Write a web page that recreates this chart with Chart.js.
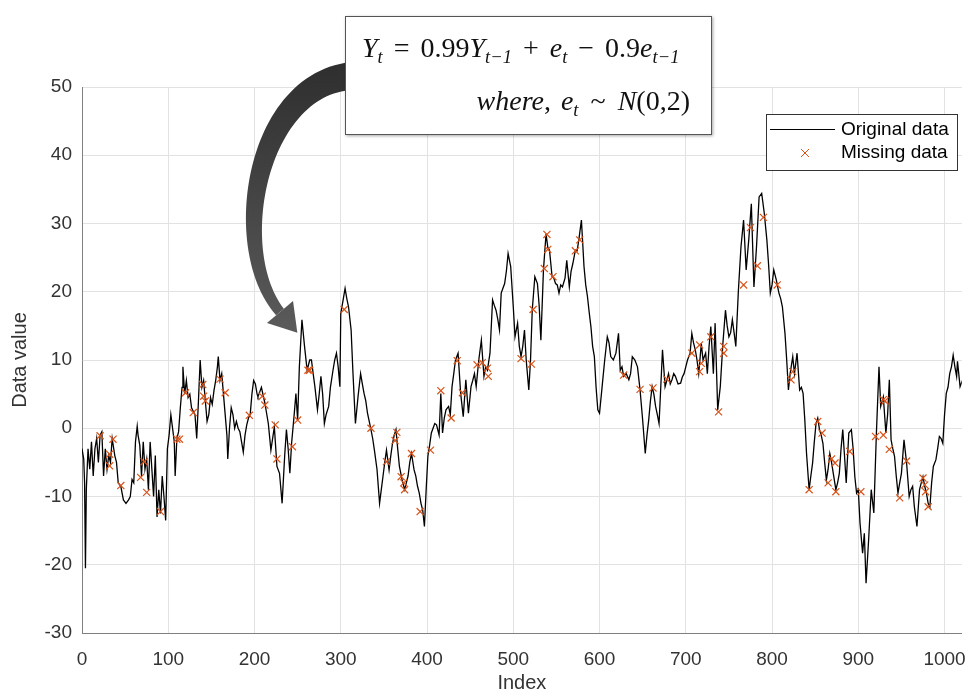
<!DOCTYPE html>
<html>
<head>
<meta charset="utf-8">
<script src="https://cdn.jsdelivr.net/npm/chart.js@4.4.1/dist/chart.umd.min.js"></script>
<style>
  body { margin: 0; background: #fff; }
  #wrap { position: relative; width: 968px; height: 699px; overflow: hidden; }
  #formula {
    position: absolute; left: 345px; top: 16px; width: 367px; height: 119px;
    box-sizing: border-box; border: 1px solid #555; background: #fff;
    box-shadow: 1px 1px 3px rgba(0,0,0,0.35);
    font-family: "Liberation Serif", "DejaVu Serif", serif; font-size: 28px; color: #111;
  }
  #formula .l1 { position: absolute; left: 16px; top: 15px; white-space: nowrap; line-height: 32px; }
  #formula .l2 { position: absolute; right: 21px; top: 68px; white-space: nowrap; line-height: 32px; }
  #formula sub { font-size: 0.66em; vertical-align: -0.35em; line-height: 0; }
  #formula .op { margin: 0 11px; }
  #formula .l2 .op { margin: 0 12px; }
  #formula .cm { margin-right: 10px; }
</style>
</head>
<body>
<div id="wrap">
  <canvas id="chart" width="968" height="699"></canvas>
  <div id="formula">
    <div class="l1"><i>Y<sub>t</sub></i><span class="op">=</span>0.99<i>Y<sub>t−1</sub></i><span class="op">+</span><i>e<sub>t</sub></i><span class="op">−</span>0.9<i>e<sub>t−1</sub></i></div>
    <div class="l2"><i>where</i><span class="cm">,</span><i>e<sub>t</sub></i><span class="op">~</span><i>N</i>(0,2)</div>
  </div>
</div>
<script>
// series (index, value)
const lineIndex = [
  0,2,3,4,5,7,9,11,13,15,17,19,21,23,25,27,29,31,33,35,38,40,42,45,48,51,54,56,58,60,
  62,64,65,67,69,71,73,75,77,79,81,83,85,87,89,91,93,95,97,99,101,103,105,107,108,110,112,114,116,117,
  119,121,123,125,127,129,131,133,135,137,139,141,143,145,147,149,151,153,155,157,158,160,162,164,166,168,169,171,173,175,
  177,179,181,183,185,187,189,191,193,195,197,199,201,203,
  204,208,212,216,219,223,226,229,232,235,237,239,241,243,246,248,250,252,255,258,261,264,266,268,270,273,275,277,279,281,
  283,286,288,291,293,295,297,299,300,303,305,307,309,312,314,317,320,323,325,327,329,331,333,335,337,339,342,345,347,349,
  351,353,356,358,360,362,364,366,368,371,374,376,378,380,382,385,387,389,391,393,395,397,399,401,403,405,407,409,
  411,414,416,418,420,422,425,427,429,431,433,436,439,442,445,448,451,453,455,457,460,463,466,468,470,473,476,478,480,482,
  484,486,488,490,492,494,497,500,502,505,507,509,511,513,515,518,520,522,525,528,530,532,535,538,540,542,545,547,549,551,
  553,555,557,560,562,565,567,569,572,574,576,579,582,584,586,588,590,592,594,596,598,600,603,606,609,611,613,616,
  619,622,624,626,628,631,634,636,638,641,644,647,650,653,655,657,659,661,663,665,667,669,671,673,676,678,680,682,684,686,
  688,691,694,696,698,700,702,705,707,709,711,713,715,718,720,723,725,727,729,732,734,737,740,743,746,748,750,752,754,756,
  758,761,764,767,770,773,776,779,782,785,788,791,794,796,798,800,802,805,808,810,812,815,817,819,821,
  824,826,829,832,834,836,838,840,843,845,847,849,851,853,855,857,859,861,863,865,867,869,871,874,876,878,880,882,884,886,
  889,892,894,896,898,900,902,905,907,909,912,915,918,921,924,926,929,932,934,936,938,940,942,944,946,948,950,953,956,959,
  961,963,965,968,971,973,975,977,979,981,983,985,987,990,992,994,996,998,1000,1002,1004,1006,1008,1010,1012,1014,1015,1018,1021,1024
];
const lineValue = [
  -3,-4.5,-8,-20.5,-9,-3,-6,-2,-7,-3,-1.5,-5,-1,-0.5,-7,-3,-6,-4,-5,-1.5,-4,-5,-8,-8.5,-10.5,-11,-10.5,-10,-7.5,-8,
  -2,0.3,-1,-2.5,-7,-2,-6,-4.5,-9,-2,-6,-10,-4,-13,-9,-12.5,-7,-10,-13.5,-3,-1,2,0,-2,-7,-1.5,-0.5,3,6,9,
  5,7,4.5,5,3,2.5,2,-1.5,4,10,6,7,4,1,2,4.5,3.5,5.5,7,9,10.5,7,8,5,2,-1,-4.5,0,3,2,
  0,1,0,-0.5,-2,-3.5,-1,0.5,1.5,2,5,7,6.5,5,
  4.6,6,3.7,0.7,-3.2,0.2,-5.6,-6.6,-11,-4,-0.2,-3,-6.6,-2.2,2,5.1,1.2,9,15.9,12,8.5,10,10,8,6.1,2.7,5,7.6,5,0.7,
  2,3.2,6,8.5,10,11,9,6.1,16.8,19,20.5,19,17.8,14.4,8.5,0.7,4.6,8,6.5,5.1,4,2.2,1,-0.2,-1.5,-3.2,-6,-11,-9,-7,
  -5,-3.2,-6.1,-4,-2.2,-1,-0.2,-3,-5.6,-7.5,-9,-8,-7,-5,-3.7,-6.1,-7,-8.5,-9.5,-11,-12,-14.4,-9,-4.1,-2.5,-0.7,0,0.7,
  0.5,-1,5.1,-0.7,1.5,2.7,3.2,2,6.1,8,10,11,5.1,1.7,7.1,2.2,6.1,7,8,6.1,10,12.9,7.6,9,8.5,11,18.8,18,17.3,16,
  14.4,19.8,20.5,21.2,23,25.6,23.7,17.8,13.4,15.4,12,10.5,12,14.4,10,5.6,10,17.3,22.2,21.2,18,12.9,23.2,28.5,26.5,26.1,22.2,22,21.2,21,
  19.8,21,20.7,22,24.6,20.7,23,24.1,26.1,26,27.6,30.5,23.7,21,19.3,17,14.9,12,10.5,6,2.7,2.2,6.1,10,13.4,12.5,10.5,10,
  11,13.9,8.5,9,7.6,8,7.1,8,10.5,10,9,5.6,1.2,-3.7,-1,1.2,4,6.1,5,3.2,2,0.7,6,11.5,6.1,7,8,6.5,7.1,8,
  7.6,6.5,6.6,7.5,8,9,10,11,13.9,12.5,11.5,10,8,12.4,10,11,8,12,14.9,8,15.4,2.7,6.1,12.4,17.3,15,13.4,14,15.9,14,
  12,20.2,26.6,30.5,23.2,27.6,32.9,20.7,26.6,33.9,34.4,31.5,27.6,24,19.8,21,23.2,21.7,19.8,19,17.8,13.9,10,5.6,8,
  10.5,8,11,5.6,6,5.1,1.2,-3.7,-9,-7,-5.1,-2,0.7,1.5,-0.2,-1,-2.2,-5,-7.6,-6,-3.7,-5,-6.6,-9,-8,-6.6,-3,-0.2,-4,-8,
  -0.7,-0.2,-3,-7.1,-9.5,-9,-13.9,-18.3,-15.4,-22.7,-16.3,-9,-12.4,-0.7,9,3.2,4.6,-0.7,2,7.1,-1.7,-3,-4.1,-7,-9.5,-8,-6.6,-1.7,-5.1,-10,
  -9,-8.5,-11.5,-14.4,-9,-8,-7.1,-8.5,-9.5,-11,-11.5,-8,-5.6,-4.6,-3,-1.2,-1.5,-2.2,2,5.1,6,8,9,10.7,9,7.6,9.8,6.1,7.1,3.7
];
const missIndex = [
  21,32,32,36,45,68,72,75,91,110,113,120,129,140,141,143,160,166,194,
  209,212,224,226,244,250,262,264,304,335,353,363,365,370,373,374,382,392,404,
  416,428,435,441,458,464,470,471,509,521,523,536,539,540,546,572,577,
  628,647,662,678,707,716,716,718,729,738,744,744,767,775,783,790,806,
  822,824,843,853,858,865,869,873,874,890,903,920,929,929,931,936,948,956,975,977,978,981
];
const missValue = [
  -1.1,-3.8,-5.5,-1.6,-8.4,-7.2,-4.9,-9.4,-12.2,-1.6,-1.6,5.2,2.3,6.4,4.7,4,7.2,5.2,1.9,
  4.7,3.4,0.5,-4.5,-2.7,1.2,8.5,8.5,17.4,0,-4.9,-1.8,-0.6,-7.1,-8,-9,-3.7,-12.2,-3.2,
  5.5,1.5,9.9,5.2,9.3,9.6,8.8,7.6,10.2,9.4,17.4,23.4,28.4,26.2,22.2,26,27.6,
  7.8,5.7,5.9,7.2,11,12.2,8.3,9.5,13.4,2.4,12,11,21,29.4,23.8,30.9,21,
  7.1,8.3,-9,1,-0.7,-8,-4.5,-5.1,-9.3,-3.4,-9.3,-1.2,4.2,-1,4,-3.1,-10.2,-4.8,-7.3,-8.3,-9.3,-11.5
];
const xTicks = [0, 100, 200, 300, 400, 500, 600, 700, 800, 900, 1000];
const labels = ['Original data', 'Missing data'];

const orange = '#D95319';
const sans = '"Liberation Sans", Arial, sans-serif';

// curved arrow from the formula box down to the peak near index 255
function drawArrow(ctx) {
  const p = [[352, 76], [255, 84], [228, 250], [280, 312]];
  const bz = (t, k) => {
    const u = 1 - t;
    return u*u*u*p[0][k] + 3*u*u*t*p[1][k] + 3*u*t*t*p[2][k] + t*t*t*p[3][k];
  };
  const left = [], right = [];
  const n = 60;
  for (let i = 0; i <= n; i++) {
    const t = i / n;
    const x = bz(t, 0), y = bz(t, 1);
    const t2 = Math.min(1, t + 0.01), t1 = Math.max(0, t - 0.01);
    let dx = bz(t2, 0) - bz(t1, 0), dy = bz(t2, 1) - bz(t1, 1);
    const len = Math.hypot(dx, dy);
    dx /= len; dy /= len;
    const w = (28 * (1 - t) + 10 * t) / 2;
    left.push([x - dy * w, y + dx * w]);
    right.push([x + dy * w, y - dx * w]);
  }
  const g = ctx.createLinearGradient(0, 60, 0, 340);
  g.addColorStop(0, '#2e2e2e');
  g.addColorStop(1, '#5c5c5c');
  ctx.save();
  ctx.fillStyle = g;
  ctx.beginPath();
  ctx.moveTo(left[0][0], left[0][1]);
  left.forEach(q => ctx.lineTo(q[0], q[1]));
  for (let i = right.length - 1; i >= 0; i--) ctx.lineTo(right[i][0], right[i][1]);
  ctx.closePath();
  ctx.fill();
  // head
  let hx = p[3][0] - p[2][0], hy = p[3][1] - p[2][1];
  const hl = Math.hypot(hx, hy);
  hx /= hl; hy /= hl;
  const bx = p[3][0], by = p[3][1];
  ctx.beginPath();
  ctx.moveTo(bx - hy * 17, by + hx * 17);
  ctx.lineTo(bx + hx * 27, by + hy * 27);
  ctx.lineTo(bx + hy * 17, by - hx * 17);
  ctx.closePath();
  ctx.fill();
  ctx.restore();
}

function drawLegend(ctx) {
  ctx.save();
  ctx.fillStyle = '#fff';
  ctx.fillRect(766, 114, 191, 56);
  ctx.strokeStyle = '#333';
  ctx.lineWidth = 1;
  ctx.strokeRect(766.5, 114.5, 191, 56);
  ctx.strokeStyle = '#000';
  ctx.beginPath();
  ctx.moveTo(770, 129.5);
  ctx.lineTo(835, 129.5);
  ctx.stroke();
  ctx.strokeStyle = orange;
  ctx.beginPath();
  ctx.moveTo(801, 149); ctx.lineTo(809, 157);
  ctx.moveTo(809, 149); ctx.lineTo(801, 157);
  ctx.stroke();
  ctx.fillStyle = '#000';
  ctx.font = '19px ' + sans;
  ctx.textBaseline = 'middle';
  ctx.fillText(labels[0], 841, 130);
  ctx.fillText(labels[1], 841, 153);
  ctx.restore();
}

const overlay = {
  id: 'overlay',
  afterDraw(chart) {
    drawArrow(chart.ctx);
    drawLegend(chart.ctx);
  }
};

new Chart(document.getElementById('chart'), {
  type: 'line',
  data: {
    datasets: [{
      label: labels[0],
      data: lineIndex.map((x, i) => ({ x: x, y: lineValue[i] })),
      borderColor: '#000',
      borderWidth: 1.3,
      pointRadius: 0,
      tension: 0,
      order: 2
    }, {
      label: labels[1],
      data: missIndex.map((x, i) => ({ x: x, y: missValue[i] })),
      showLine: false,
      pointStyle: 'crossRot',
      pointRadius: 5,
      borderColor: orange,
      pointBorderColor: orange,
      pointBackgroundColor: orange,
      pointBorderWidth: 1.2,
      order: 1
    }]
  },
  options: {
    responsive: false,
    animation: false,
    devicePixelRatio: 1,
    events: [],
    layout: { padding: { top: 87, right: 0, left: 0, bottom: 0 } },
    plugins: { legend: { display: false }, tooltip: { enabled: false } },
    scales: {
      x: {
        type: 'linear',
        min: 0,
        max: 1020,
        afterBuildTicks: s => { s.ticks = xTicks.map(v => ({ value: v })); },
        afterFit: s => { s.height = 66; s.paddingRight = 0; s.paddingLeft = 0; },
        grid: { color: '#e2e2e2', tickLength: 0 },
        border: { color: '#808080' },
        ticks: {
          padding: 15,
          color: '#333',
          maxRotation: 0,
          font: { family: sans, size: 19 },
          callback: v => String(v)
        },
        title: {
          display: true,
          text: 'Index',
          color: '#333',
          padding: { top: 0, bottom: 4 },
          font: { family: sans, size: 20 }
        }
      },
      y: {
        min: -30,
        max: 50,
        afterFit: s => { s.width = 82; },
        grid: { color: '#e2e2e2', tickLength: 0 },
        border: { color: '#808080' },
        ticks: {
          stepSize: 10,
          padding: 10,
          color: '#333',
          font: { family: sans, size: 19 }
        },
        title: {
          display: true,
          text: 'Data value',
          color: '#333',
          padding: { top: 8, bottom: 0 },
          font: { family: sans, size: 20 }
        }
      }
    }
  },
  plugins: [overlay]
});
</script>
</body>
</html>
